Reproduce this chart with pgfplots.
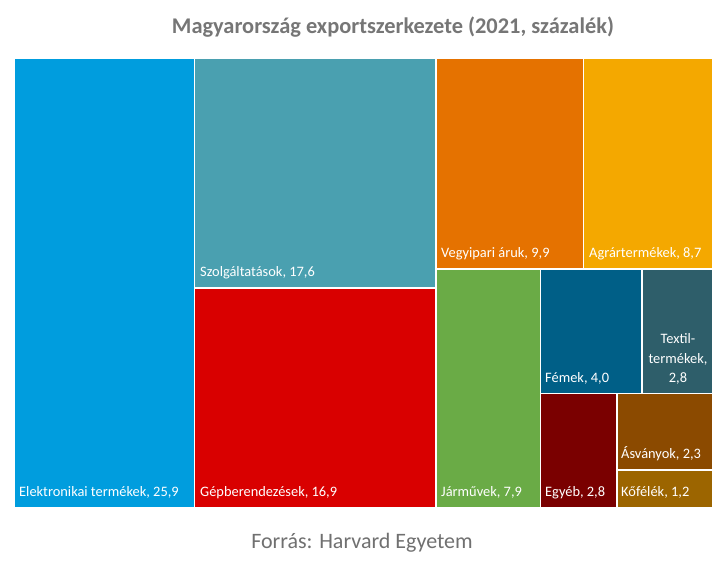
\documentclass[border=0pt]{standalone}
\usepackage{pgfplots}
\pgfplotsset{compat=1.18}
\usepackage{fontspec}
\setmainfont{Carlito}
\definecolor{cElek}{RGB}{0,157,222}
\definecolor{cSzol}{RGB}{74,160,176}
\definecolor{cGep}{RGB}{217,0,0}
\definecolor{cVegy}{RGB}{229,114,0}
\definecolor{cAgr}{RGB}{244,168,0}
\definecolor{cJar}{RGB}{106,171,70}
\definecolor{cFem}{RGB}{0,95,135}
\definecolor{cTex}{RGB}{46,94,106}
\definecolor{cEgy}{RGB}{122,0,0}
\definecolor{cAsv}{RGB}{139,74,0}
\definecolor{cKof}{RGB}{156,101,0}
\definecolor{cTitle}{RGB}{118,118,118}
\tikzset{lab/.style={text=white, anchor=south west, inner sep=0pt, font=\fontsize{14.4}{19.5}\selectfont}}
\begin{document}
\begin{tikzpicture}[x=1pt,y=1pt]
\path[use as bounding box, fill=white] (0,0) rectangle (728,560);
\node[text=cTitle, font=\fontsize{22.4}{26}\selectfont\bfseries] at (393,533) {Magyarország exportszerkezete (2021, százalék)};
\node[text=cTitle!95!black, font=\fontsize{22}{26}\selectfont] at (362,17) {Forrás: Harvard Egyetem};
\begin{axis}[
  at={(14pt,52pt)}, anchor=south west,
  width=699pt, height=450pt, scale only axis,
  xmin=14, xmax=713, ymin=58, ymax=508, y dir=reverse,
  hide axis, clip=false,
  every axis plot/.append style={draw=white, line width=1.6pt},
]
\addplot[fill=cElek] coordinates {(14,58) (194.5,58) (194.5,508) (14,508)} -- cycle;
\addplot[fill=cSzol] coordinates {(194.5,58) (436,58) (436,288) (194.5,288)} -- cycle;
\addplot[fill=cGep] coordinates {(194.5,288) (436,288) (436,508) (194.5,508)} -- cycle;
\addplot[fill=cVegy] coordinates {(436,58) (583.5,58) (583.5,269) (436,269)} -- cycle;
\addplot[fill=cAgr] coordinates {(583.5,58) (713,58) (713,269) (583.5,269)} -- cycle;
\addplot[fill=cJar] coordinates {(436,269) (540.5,269) (540.5,508) (436,508)} -- cycle;
\addplot[fill=cFem] coordinates {(540.5,269) (642,269) (642,393.5) (540.5,393.5)} -- cycle;
\addplot[fill=cTex] coordinates {(642,269) (713,269) (713,393.5) (642,393.5)} -- cycle;
\addplot[fill=cEgy] coordinates {(540.5,393.5) (617,393.5) (617,508) (540.5,508)} -- cycle;
\addplot[fill=cAsv] coordinates {(617,393.5) (713,393.5) (713,470) (617,470)} -- cycle;
\addplot[fill=cKof] coordinates {(617,470) (713,470) (713,508) (617,508)} -- cycle;
\node[lab] at (axis cs:19,499) {Elektronikai termékek, 25,9};
\node[lab] at (axis cs:200,279) {Szolgáltatások, 17,6};
\node[lab] at (axis cs:200,499) {Gépberendezések, 16,9};
\node[lab] at (axis cs:441,260) {Vegyipari áruk, 9,9};
\node[lab] at (axis cs:589,260) {Agrártermékek, 8,7};
\node[lab] at (axis cs:441,499) {Járművek, 7,9};
\node[lab] at (axis cs:545,385) {Fémek, 4,0};
\node[lab, anchor=south, align=center] at (axis cs:678,385) {Textil-\\termékek,\\2,8};
\node[lab] at (axis cs:545,499) {Egyéb, 2,8};
\node[lab] at (axis cs:621,461) {Ásványok, 2,3};
\node[lab] at (axis cs:621,499) {Kőfélék, 1,2};
\end{axis}
\end{tikzpicture}
\end{document}
